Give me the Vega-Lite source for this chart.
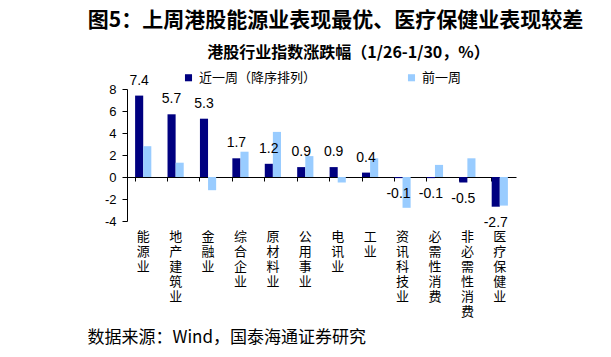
{
  "$schema": "https://vega.github.io/schema/vega-lite/v6.json",
  "autosize": {"type": "none"},
  "width": 389,
  "height": 132,
  "padding": {"left": 127, "top": 89, "right": 95, "bottom": 136},
  "background": "white",
  "title": {
    "text": "图5：上周港股能源业表现最优、医疗保健业表现较差",
    "anchor": "middle",
    "frame": "group",
    "dx": 14,
    "offset": 13,
    "font": "Noto Sans CJK SC",
    "fontSize": 21,
    "fontWeight": "bold",
    "color": "black"
  },
  "config": {"view": {"stroke": null}, "axis": {"grid": false}},
  "data": {
    "values": [
      {"industry": "能源业", "series": "近一周（降序排列）", "value": 7.4},
      {"industry": "地产建筑业", "series": "近一周（降序排列）", "value": 5.7},
      {"industry": "金融业", "series": "近一周（降序排列）", "value": 5.3},
      {"industry": "综合企业", "series": "近一周（降序排列）", "value": 1.7},
      {"industry": "原材料业", "series": "近一周（降序排列）", "value": 1.2},
      {"industry": "公用事业", "series": "近一周（降序排列）", "value": 0.9},
      {"industry": "电讯业", "series": "近一周（降序排列）", "value": 0.9},
      {"industry": "工业", "series": "近一周（降序排列）", "value": 0.4},
      {"industry": "资讯科技业", "series": "近一周（降序排列）", "value": -0.1},
      {"industry": "必需性消费", "series": "近一周（降序排列）", "value": -0.1},
      {"industry": "非必需性消费", "series": "近一周（降序排列）", "value": -0.5},
      {"industry": "医疗保健业", "series": "近一周（降序排列）", "value": -2.7},
      {"industry": "能源业", "series": "前一周", "value": 2.8},
      {"industry": "地产建筑业", "series": "前一周", "value": 1.3},
      {"industry": "金融业", "series": "前一周", "value": -1.2},
      {"industry": "综合企业", "series": "前一周", "value": 2.3},
      {"industry": "原材料业", "series": "前一周", "value": 4.1},
      {"industry": "公用事业", "series": "前一周", "value": 1.9},
      {"industry": "电讯业", "series": "前一周", "value": -0.5},
      {"industry": "工业", "series": "前一周", "value": 1.7},
      {"industry": "资讯科技业", "series": "前一周", "value": -2.8},
      {"industry": "必需性消费", "series": "前一周", "value": 1.1},
      {"industry": "非必需性消费", "series": "前一周", "value": 1.7},
      {"industry": "医疗保健业", "series": "前一周", "value": -2.6}
    ]
  },
  "layer": [
    {
      "mark": {"type": "bar"},
      "encoding": {
        "x": {
          "field": "industry", "type": "nominal", "sort": null,
          "scale": {"paddingInner": 0.5, "paddingOuter": 0.25},
          "axis": {"orient": "bottom", "offset": -44, "labels": false, "title": null,
                   "domainColor": "black", "tickColor": "black", "tickSize": 4, "bandPosition": 0}
        },
        "xOffset": {"field": "series", "type": "nominal", "scale": {"domain": ["近一周（降序排列）", "前一周"]}},
        "y": {
          "field": "value", "type": "quantitative",
          "scale": {"domain": [-4, 8], "nice": false, "zero": false},
          "axis": {"values": [-4, -2, 0, 2, 4, 6, 8], "title": null, "labelExpr": "datum.value", "labelOverlap": false,
                   "domainColor": "black", "tickColor": "black", "tickSize": 5, "labelPadding": 6,
                   "labelFont": "Liberation Sans", "labelFontSize": 13, "labelColor": "black"}
        },
        "color": {
          "field": "series", "type": "nominal",
          "scale": {"domain": ["近一周（降序排列）", "前一周"], "range": ["#000080", "#99CCFF"]},
          "legend": {"orient": "none", "legendX": 55, "legendY": -18, "direction": "horizontal", "title": null,
                     "symbolType": "square", "symbolSize": 50, "symbolStrokeWidth": 0,
                     "labelFont": "Noto Sans CJK SC", "labelFontSize": 13, "labelColor": "black", "columnPadding": 88}
        }
      }
    },
    {
      "transform": [{"filter": "datum.series == '近一周（降序排列）' && datum.value >= 0"}],
      "mark": {"type": "text", "baseline": "bottom", "dy": -8, "font": "Liberation Sans", "fontSize": 14, "color": "black"},
      "encoding": {
        "x": {
          "field": "industry", "type": "nominal", "sort": null,
          "axis": {"orient": "bottom", "domain": false, "ticks": false, "labelAngle": 0,
                   "labelExpr": "split(datum.label, '')", "labelBaseline": "top", "labelPadding": 9,
                   "labelFont": "Noto Sans CJK SC", "labelFontSize": 13, "labelLineHeight": 15, "labelColor": "black",
                   "title": "数据来源：Wind，国泰海通证券研究", "titleX": -40, "titleY": 116,
                   "titleAlign": "left", "titleAnchor": "start", "titleBaseline": "middle",
                   "titleFont": "Noto Sans CJK SC", "titleFontSize": 17, "titleFontWeight": "normal", "titleColor": "black"}
        },
        "xOffset": {"field": "series", "type": "nominal"},
        "y": {"field": "value", "type": "quantitative",
              "axis": {"values": [-4, -2, 0, 2, 4, 6, 8], "title": null, "labelExpr": "datum.value", "labelOverlap": false,
                       "domainColor": "black", "tickColor": "black", "tickSize": 5, "labelPadding": 6,
                       "labelFont": "Liberation Sans", "labelFontSize": 13, "labelColor": "black"}},
        "text": {"field": "value", "type": "nominal"}
      }
    },
    {
      "transform": [{"filter": "datum.series == '近一周（降序排列）' && datum.value < 0"}],
      "mark": {"type": "text", "baseline": "top", "dy": 9, "font": "Liberation Sans", "fontSize": 14, "color": "black"},
      "encoding": {
        "x": {"field": "industry", "type": "nominal", "sort": null,
              "axis": {"orient": "top", "domain": false, "ticks": false, "labels": false,
                       "title": "港股行业指数涨跌幅（1/26-1/30，%）", "titleX": 221, "titleY": -37,
                       "titleAlign": "center", "titleAnchor": "middle", "titleBaseline": "middle",
                       "titleFont": "Noto Sans CJK SC", "titleFontSize": 16, "titleFontWeight": "bold", "titleColor": "black"}},
        "xOffset": {"field": "series", "type": "nominal"},
        "y": {"field": "value", "type": "quantitative",
              "axis": {"values": [-4, -2, 0, 2, 4, 6, 8], "title": null, "labelExpr": "datum.value", "labelOverlap": false,
                       "domainColor": "black", "tickColor": "black", "tickSize": 5, "labelPadding": 6,
                       "labelFont": "Liberation Sans", "labelFontSize": 13, "labelColor": "black"}},
        "text": {"field": "value", "type": "nominal"}
      }
    }
  ],
  "resolve": {"axis": {"x": "independent"}}
}
